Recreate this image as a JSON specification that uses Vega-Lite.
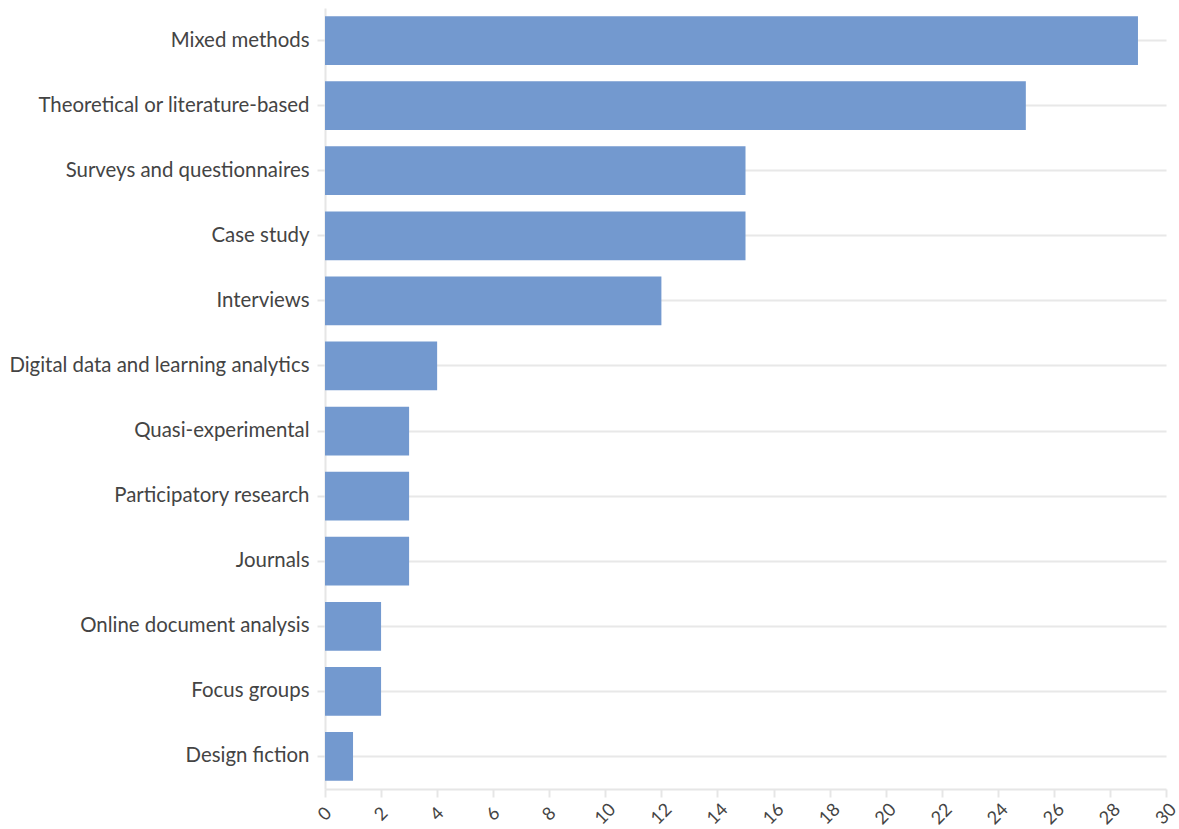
{
  "$schema": "https://vega.github.io/schema/vega-lite/v6.json",
  "autosize": "none",
  "width": 841,
  "height": 781,
  "padding": {"left": 325, "top": 8, "right": 13, "bottom": 40},
  "background": "white",
  "data": {"values": [
    {"method": "Mixed methods", "count": 29},
    {"method": "Theoretical or literature-based", "count": 25},
    {"method": "Surveys and questionnaires", "count": 15},
    {"method": "Case study", "count": 15},
    {"method": "Interviews", "count": 12},
    {"method": "Digital data and learning analytics", "count": 4},
    {"method": "Quasi-experimental", "count": 3},
    {"method": "Participatory research", "count": 3},
    {"method": "Journals", "count": 3},
    {"method": "Online document analysis", "count": 2},
    {"method": "Focus groups", "count": 2},
    {"method": "Design fiction", "count": 1}
  ]},
  "mark": {"type": "bar", "color": "#7399cf"},
  "encoding": {
    "y": {
      "field": "method", "type": "nominal", "sort": null, "title": null,
      "scale": {"paddingInner": 0.25, "paddingOuter": 0.125},
      "axis": {
        "grid": true, "gridColor": "#e8e8e8", "gridWidth": 2,
        "domainColor": "#e6e6e6", "domainWidth": 2,
        "tickColor": "#e6e6e6", "tickSize": 8, "tickWidth": 2,
        "labelFont": "Lato", "labelFontSize": 20.4, "labelColor": "#444444",
        "labelPadding": 8, "labelLimit": 400
      }
    },
    "x": {
      "field": "count", "type": "quantitative", "title": null,
      "scale": {"domain": [0, 30], "nice": false},
      "axis": {
        "values": [0,2,4,6,8,10,12,14,16,18,20,22,24,26,28,30],
        "grid": false,
        "domainColor": "#e6e6e6", "domainWidth": 2,
        "tickColor": "#e6e6e6", "tickSize": 8, "tickWidth": 2,
        "labelFont": "Lato", "labelFontSize": 18, "labelColor": "#444444",
        "labelAngle": -45, "labelAlign": "center", "labelBaseline": "middle",
        "labelPadding": 17
      }
    }
  },
  "config": {"view": {"stroke": null}}
}
